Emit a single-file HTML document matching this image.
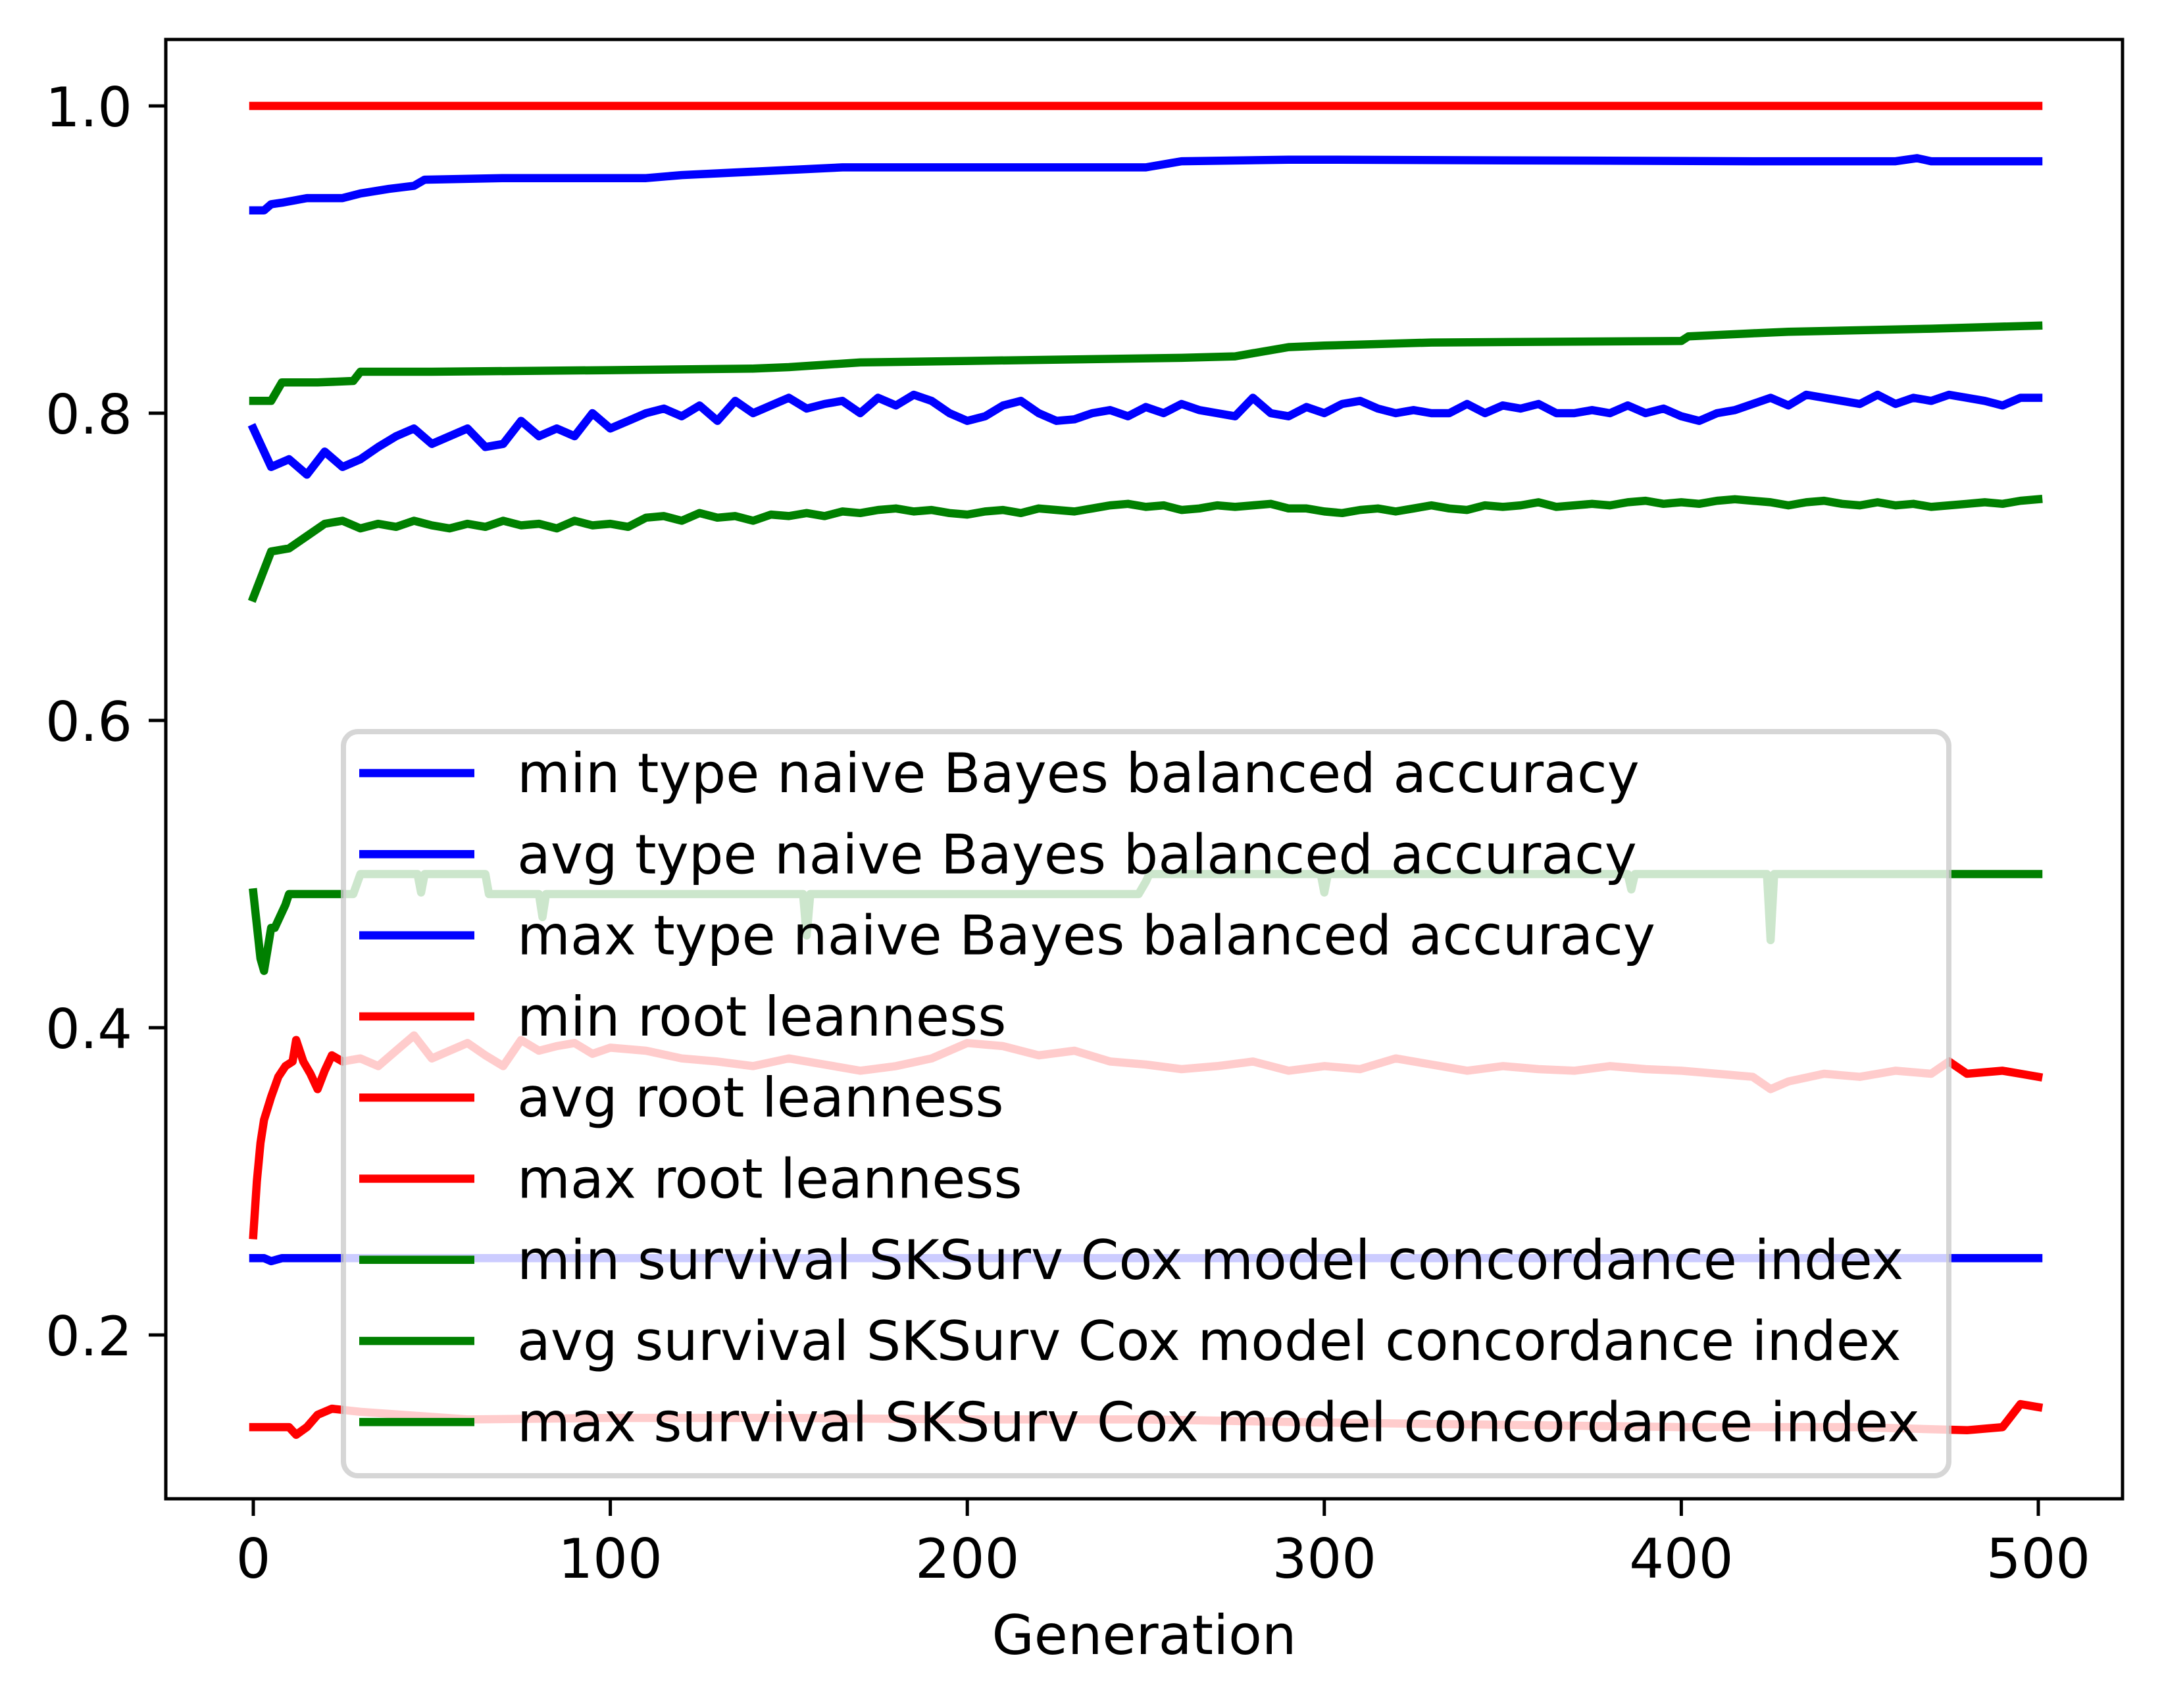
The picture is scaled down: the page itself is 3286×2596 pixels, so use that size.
<!DOCTYPE html>
<html><head><meta charset="utf-8"><style>
html,body{margin:0;padding:0;background:#fff;}
svg text{font-family:"DejaVu Sans","Liberation Sans",sans-serif;}
</style></head><body>
<svg id="chart" width="3286" height="2591" viewBox="0 0 3286 2591" xmlns="http://www.w3.org/2000/svg">
<rect width="3286" height="2591" fill="#fff"/>
<g id="series"></g>
<g id="legend"></g>
<g id="axes"></g>
</svg>
<script>
const xTicks=[0,100,200,300,400,500];
const yTicks=[0.2,0.4,0.6,0.8,1.0];
const yTickLabels=["0.2","0.4","0.6","0.8","1.0"];
const legendLabels=["min type naive Bayes balanced accuracy","avg type naive Bayes balanced accuracy","max type naive Bayes balanced accuracy","min root leanness","avg root leanness","max root leanness","min survival SKSurv Cox model concordance index","avg survival SKSurv Cox model concordance index","max survival SKSurv Cox model concordance index"];
const legendColors=["#0000ff","#0000ff","#0000ff","#ff0000","#ff0000","#ff0000","#008000","#008000","#008000"];
// step-like series: generations and values
const minNBGen=[0,3,5,8,500];
const minNBVal=[0.25,0.25,0.248,0.25,0.25];
const maxNBGen=[0,3,5,8,15,25,30,38,45,48,70,110,120,165,250,260,290,300,420,460,466,470,500];
const maxNBVal=[0.932,0.932,0.936,0.937,0.94,0.94,0.943,0.946,0.948,0.952,0.953,0.953,0.955,0.96,0.96,0.964,0.965,0.965,0.964,0.964,0.966,0.964,0.964];
const minLeanGen=[0,10,12,15,18,22,30,60,100,150,200,250,300,400,450,480,490,495,500];
const minLeanVal=[0.14,0.14,0.135,0.14,0.148,0.152,0.15,0.145,0.146,0.146,0.145,0.145,0.143,0.14,0.14,0.138,0.14,0.155,0.153];
const maxLeanGen=[0,500];
const maxLeanVal=[1.0,1.0];
const minSurvGen=[0,2,3,5,6,9,10,28,30,46,47,48,65,66,80,81,82,154,155,156,248,250,251,299,300,301,385,386,387,424,425,426,500];
const minSurvVal=[0.488,0.445,0.437,0.465,0.465,0.48,0.487,0.487,0.5,0.5,0.488,0.5,0.5,0.487,0.487,0.472,0.487,0.487,0.46,0.487,0.487,0.495,0.5,0.5,0.488,0.5,0.5,0.49,0.5,0.5,0.457,0.5,0.5];
const maxSurvGen=[0,5,8,15,18,28,30,50,100,140,150,170,200,260,275,290,300,330,400,402,420,430,470,500];
const maxSurvVal=[0.808,0.808,0.82,0.82,0.82,0.821,0.827,0.827,0.828,0.829,0.83,0.833,0.834,0.836,0.837,0.843,0.844,0.846,0.847,0.85,0.852,0.853,0.855,0.857];
// noisy series sampled every 5 generations
const avgNBVal=[0.790,0.765,0.770,0.760,0.775,0.765,0.770,0.778,0.785,0.790,0.780,0.785,0.790,0.778,0.780,0.795,0.785,0.790,0.785,0.800,0.790,0.795,0.800,0.803,0.798,0.805,0.795,0.808,0.800,0.805,0.810,0.803,0.806,0.808,0.800,0.810,0.805,0.812,0.808,0.800,0.795,0.798,0.805,0.808,0.800,0.795,0.796,0.800,0.802,0.798,0.804,0.800,0.806,0.802,0.800,0.798,0.810,0.800,0.798,0.804,0.800,0.806,0.808,0.803,0.800,0.802,0.800,0.800,0.806,0.800,0.805,0.803,0.806,0.800,0.800,0.802,0.800,0.805,0.800,0.803,0.798,0.795,0.800,0.802,0.806,0.810,0.805,0.812,0.810,0.808,0.806,0.812,0.806,0.810,0.808,0.812,0.810,0.808,0.805,0.810,0.810];
const avgSurvVal=[0.680,0.710,0.712,0.720,0.728,0.730,0.725,0.728,0.726,0.730,0.727,0.725,0.728,0.726,0.730,0.727,0.728,0.725,0.730,0.727,0.728,0.726,0.732,0.733,0.730,0.735,0.732,0.733,0.730,0.734,0.733,0.735,0.733,0.736,0.735,0.737,0.738,0.736,0.737,0.735,0.734,0.736,0.737,0.735,0.738,0.737,0.736,0.738,0.740,0.741,0.739,0.740,0.737,0.738,0.740,0.739,0.740,0.741,0.738,0.738,0.736,0.735,0.737,0.738,0.736,0.738,0.740,0.738,0.737,0.740,0.739,0.740,0.742,0.739,0.740,0.741,0.740,0.742,0.743,0.741,0.742,0.741,0.743,0.744,0.743,0.742,0.740,0.742,0.743,0.741,0.740,0.742,0.740,0.741,0.739,0.740,0.741,0.742,0.741,0.743,0.744];
const avgLeanGen=[0,1,2,3,5,7,9,11,12,14,16,18,20,22,25,30,35,40,45,50,55,60,65,70,75,80,85,90,95,100,110,120,130,140,150,160,170,180,190,200,210,220,230,240,250,260,270,280,290,300,310,320,330,340,350,360,370,380,390,400,410,420,425,430,440,450,460,470,475,480,490,495,500];
const avgLeanVal=[0.265,0.3,0.325,0.34,0.355,0.368,0.375,0.378,0.392,0.378,0.37,0.36,0.372,0.382,0.378,0.38,0.375,0.385,0.395,0.38,0.385,0.39,0.382,0.375,0.392,0.385,0.388,0.39,0.383,0.387,0.385,0.38,0.378,0.375,0.38,0.376,0.372,0.375,0.38,0.39,0.388,0.382,0.385,0.378,0.376,0.373,0.375,0.378,0.372,0.375,0.373,0.38,0.376,0.372,0.375,0.373,0.372,0.375,0.373,0.372,0.37,0.368,0.36,0.365,0.37,0.368,0.372,0.37,0.378,0.37,0.372,0.37,0.368];

const L=252,R=3226,T=60,B=2278;
const X0=385,X500=3098;
function xs(g){return X0+(X500-X0)*g/500;}
function ys(v){return 161+(1-v)*2335;}
const NS="http://www.w3.org/2000/svg";
function mk(tag,attrs,parent){const e=document.createElementNS(NS,tag);for(const k in attrs)e.setAttribute(k,attrs[k]);parent.appendChild(e);return e;}
const S=document.getElementById('series');
function pathFrom(gens,vals){return vals.map((v,i)=>(i?'L':'M')+xs(gens[i]).toFixed(1)+' '+ys(v).toFixed(1)).join(' ');}
function evenGens(n){const a=[];for(let i=0;i<n;i++)a.push(i*500/(n-1));return a;}
const series=[
 ['min-nb-line',minNBGen,minNBVal,'#0000ff'],
 ['avg-nb-line',evenGens(avgNBVal.length),avgNBVal,'#0000ff'],
 ['max-nb-line',maxNBGen,maxNBVal,'#0000ff'],
 ['min-leanness-line',minLeanGen,minLeanVal,'#ff0000'],
 ['avg-leanness-line',avgLeanGen,avgLeanVal,'#ff0000'],
 ['max-leanness-line',maxLeanGen,maxLeanVal,'#ff0000'],
 ['min-survival-line',minSurvGen,minSurvVal,'#008000'],
 ['avg-survival-line',evenGens(avgSurvVal.length),avgSurvVal,'#008000'],
 ['max-survival-line',maxSurvGen,maxSurvVal,'#008000']
];
series.forEach(s=>{
 const p=mk('path',{d:pathFrom(s[1],s[2]),fill:'none',stroke:s[3],'stroke-width':12.5,'stroke-linejoin':'round','stroke-linecap':'square'},S);
 
 
});
// legend
const LG=document.getElementById('legend');
const box=mk('rect',{x:522,y:1112,width:2440,height:1131,rx:22,ry:22,fill:'rgba(255,255,255,0.8)',stroke:'rgba(204,204,204,0.8)','stroke-width':8},LG);


legendLabels.forEach((lab,i)=>{
 const cy=1175+i*123.3;
 const g=mk('g',{},LG);
 
 
 mk('line',{x1:546,x2:721,y1:cy,y2:cy,stroke:legendColors[i],'stroke-width':12.5},g);
 const t=mk('text',{x:786,y:cy+29,'font-size':83,fill:'#000'},g);
 t.textContent=lab;
});
// axes
const A=document.getElementById('axes');
const fr=mk('rect',{x:L,y:T,width:R-L,height:B-T,fill:'none',stroke:'#000','stroke-width':5},A);


xTicks.forEach(t=>{
 const x=xs(t);
 mk('line',{x1:x,x2:x,y1:B,y2:B+26,stroke:'#000','stroke-width':5},A);
 const tx=mk('text',{x:x,y:2398,'font-size':83,'text-anchor':'middle',fill:'#000'},A);
 tx.textContent=String(t);
 
 
});
yTicks.forEach((t,i)=>{
 const y=ys(t);
 mk('line',{x1:L-26,x2:L,y1:y,y2:y,stroke:'#000','stroke-width':5},A);
 const tx=mk('text',{x:201,y:y+31,'font-size':83,'text-anchor':'end',fill:'#000'},A);
 tx.textContent=yTickLabels[i];
 
 
});
const xt=mk('text',{x:1739,y:2514,'font-size':83,'text-anchor':'middle',fill:'#000'},A);
xt.textContent='Generation';


</script>
</body></html>
